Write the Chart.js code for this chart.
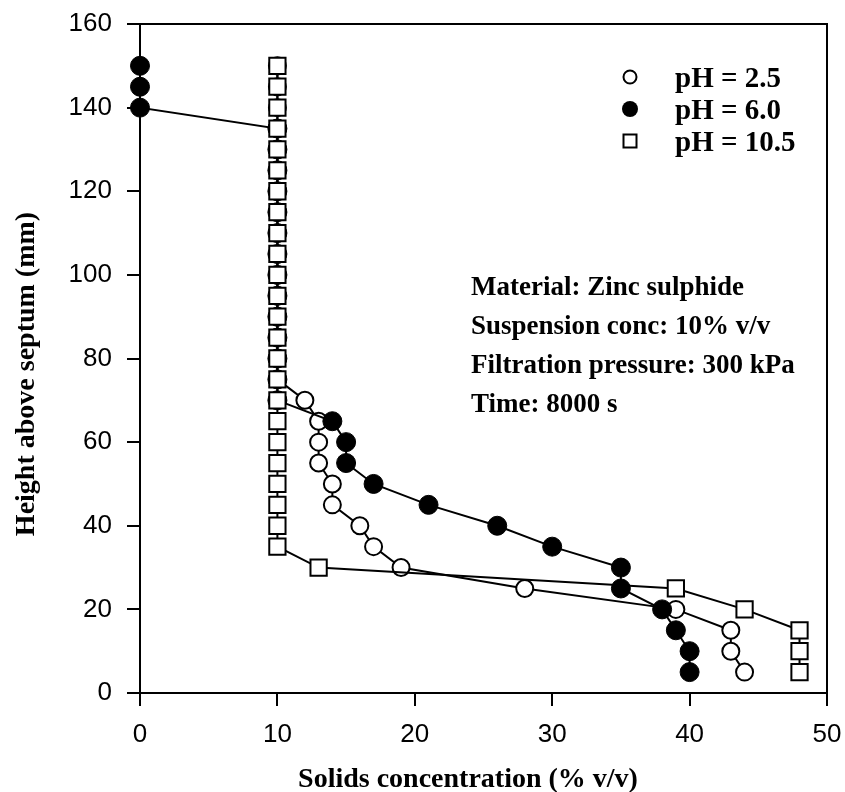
<!DOCTYPE html>
<html>
<head>
<meta charset="utf-8">
<script src="https://cdn.jsdelivr.net/npm/chart.js@4/dist/chart.umd.min.js"></script>
<style>
  body { margin: 0; background: #fff; }
  canvas { display: block; }
</style>
</head>
<body>
<canvas id="chart" width="845" height="792"></canvas>
<script>
// height above septum (mm), shared by all three series
const heights = [150, 145, 140, 135, 130, 125, 120, 115, 110, 105, 100, 95, 90, 85, 80,
                 75, 70, 65, 60, 55, 50, 45, 40, 35, 30, 25, 20, 15, 10, 5];

// solids concentration (% v/v) for each height
const concPh25 = [10, 10, 10, 10, 10, 10, 10, 10, 10, 10, 10, 10, 10, 10, 10,
                  10, 12, 13, 13, 13, 14, 14, 16, 17, 19, 28, 39, 43, 43, 44];
const concPh60 = [0, 0, 0, 10, 10, 10, 10, 10, 10, 10, 10, 10, 10, 10, 10,
                  10, 10, 14, 15, 15, 17, 21, 26, 30, 35, 35, 38, 39, 40, 40];
const concPh105 = [10, 10, 10, 10, 10, 10, 10, 10, 10, 10, 10, 10, 10, 10, 10,
                   10, 10, 10, 10, 10, 10, 10, 10, 10, 13, 39, 44, 48, 48, 48];

const seriesLabels = ["pH = 2.5", "pH = 6.0", "pH = 10.5"];
const notes = ["Material: Zinc sulphide", "Suspension conc: 10% v/v",
               "Filtration pressure: 300 kPa", "Time: 8000 s"];
const xTitle = "Solids concentration (% v/v)";
const yTitle = "Height above septum (mm)";

function toPoints(xs) {
    return xs.map((x, i) => ({ x: x, y: heights[i] }));
}

const SERIF = "'Liberation Serif', 'Times New Roman', serif";
const SANS = "'Liberation Sans', Arial, sans-serif";

// keep the plot box where the reference has it
function noOverhang(s) {
    s.paddingTop = 0;
    s.paddingBottom = 0;
    s.paddingLeft = 0;
    s.paddingRight = 0;
}

const extras = {
    id: "extras",
    afterDraw(chart) {
        const ctx = chart.ctx;
        const a = chart.chartArea;
        ctx.save();
        // frame top and right
        ctx.strokeStyle = "#000";
        ctx.lineWidth = 2;
        ctx.beginPath();
        ctx.moveTo(a.left, a.top);
        ctx.lineTo(a.right, a.top);
        ctx.lineTo(a.right, a.bottom);
        ctx.stroke();

        ctx.fillStyle = "#000";
        // axis titles
        ctx.font = "bold 28px " + SERIF;
        ctx.textAlign = "center";
        ctx.textBaseline = "alphabetic";
        ctx.fillText(xTitle, 468, 787);
        ctx.save();
        ctx.translate(34, 374);
        ctx.rotate(-Math.PI / 2);
        ctx.fillText(yTitle, 0, 0);
        ctx.restore();

        // notes
        ctx.font = "bold 27px " + SERIF;
        ctx.textAlign = "left";
        notes.forEach((t, i) => ctx.fillText(t, 471, 295 + i * 39));

        // legend
        ctx.font = "bold 29px " + SERIF;
        seriesLabels.forEach((t, i) => {
            const cy = 77 + i * 32;
            ctx.beginPath();
            ctx.lineWidth = 2;
            if (i === 0) {
                ctx.arc(630, cy, 6.5, 0, Math.PI * 2);
                ctx.fillStyle = "#fff";
                ctx.fill();
                ctx.stroke();
            } else if (i === 1) {
                ctx.arc(630, cy, 8, 0, Math.PI * 2);
                ctx.fillStyle = "#000";
                ctx.fill();
            } else {
                ctx.rect(623.5, cy - 6.5, 13, 13);
                ctx.fillStyle = "#fff";
                ctx.fill();
                ctx.stroke();
            }
            ctx.fillStyle = "#000";
            ctx.fillText(t, 675, cy + 10);
        });
        ctx.restore();
    }
};

new Chart(document.getElementById("chart").getContext("2d"), {
    type: "scatter",
    data: {
        datasets: [
            {
                label: seriesLabels[0],
                data: toPoints(concPh25),
                showLine: true,
                borderColor: "#000",
                borderWidth: 2,
                pointStyle: "circle",
                pointRadius: 8.5,
                pointBorderWidth: 2,
                pointBackgroundColor: "#fff",
                pointBorderColor: "#000",
                clip: false,
                order: 2
            },
            {
                label: seriesLabels[1],
                data: toPoints(concPh60),
                showLine: true,
                borderColor: "#000",
                borderWidth: 2,
                pointStyle: "circle",
                pointRadius: 9.5,
                pointBorderWidth: 1,
                pointBackgroundColor: "#000",
                pointBorderColor: "#000",
                clip: false,
                order: 1
            },
            {
                label: seriesLabels[2],
                data: toPoints(concPh105),
                showLine: true,
                borderColor: "#000",
                borderWidth: 2,
                pointStyle: "rect",
                pointRadius: 11.5,
                pointBorderWidth: 2,
                pointBackgroundColor: "#fff",
                pointBorderColor: "#000",
                clip: false,
                order: 0
            }
        ]
    },
    options: {
        responsive: false,
        animation: false,
        events: [],
        layout: { padding: { left: 0, top: 24, right: 18, bottom: 0 } },
        plugins: {
            legend: { display: false },
            tooltip: { enabled: false }
        },
        scales: {
            x: {
                type: "linear",
                min: 0,
                max: 50,
                afterFit: (s) => { s.height = 99; noOverhang(s); },
                ticks: { stepSize: 10, color: "#000", padding: 13, font: { family: SANS, size: 26 } },
                grid: { drawOnChartArea: false, drawTicks: true, tickLength: 13, color: "#000", lineWidth: 2 },
                border: { color: "#000", width: 2 }
            },
            y: {
                type: "linear",
                min: 0,
                max: 160,
                afterFit: (s) => { s.width = 140; noOverhang(s); },
                ticks: { stepSize: 20, color: "#000", padding: 15, font: { family: SANS, size: 26 } },
                grid: { drawOnChartArea: false, drawTicks: true, tickLength: 13, color: "#000", lineWidth: 2 },
                border: { color: "#000", width: 2 }
            }
        }
    },
    plugins: [extras]
});
</script>
</body>
</html>
